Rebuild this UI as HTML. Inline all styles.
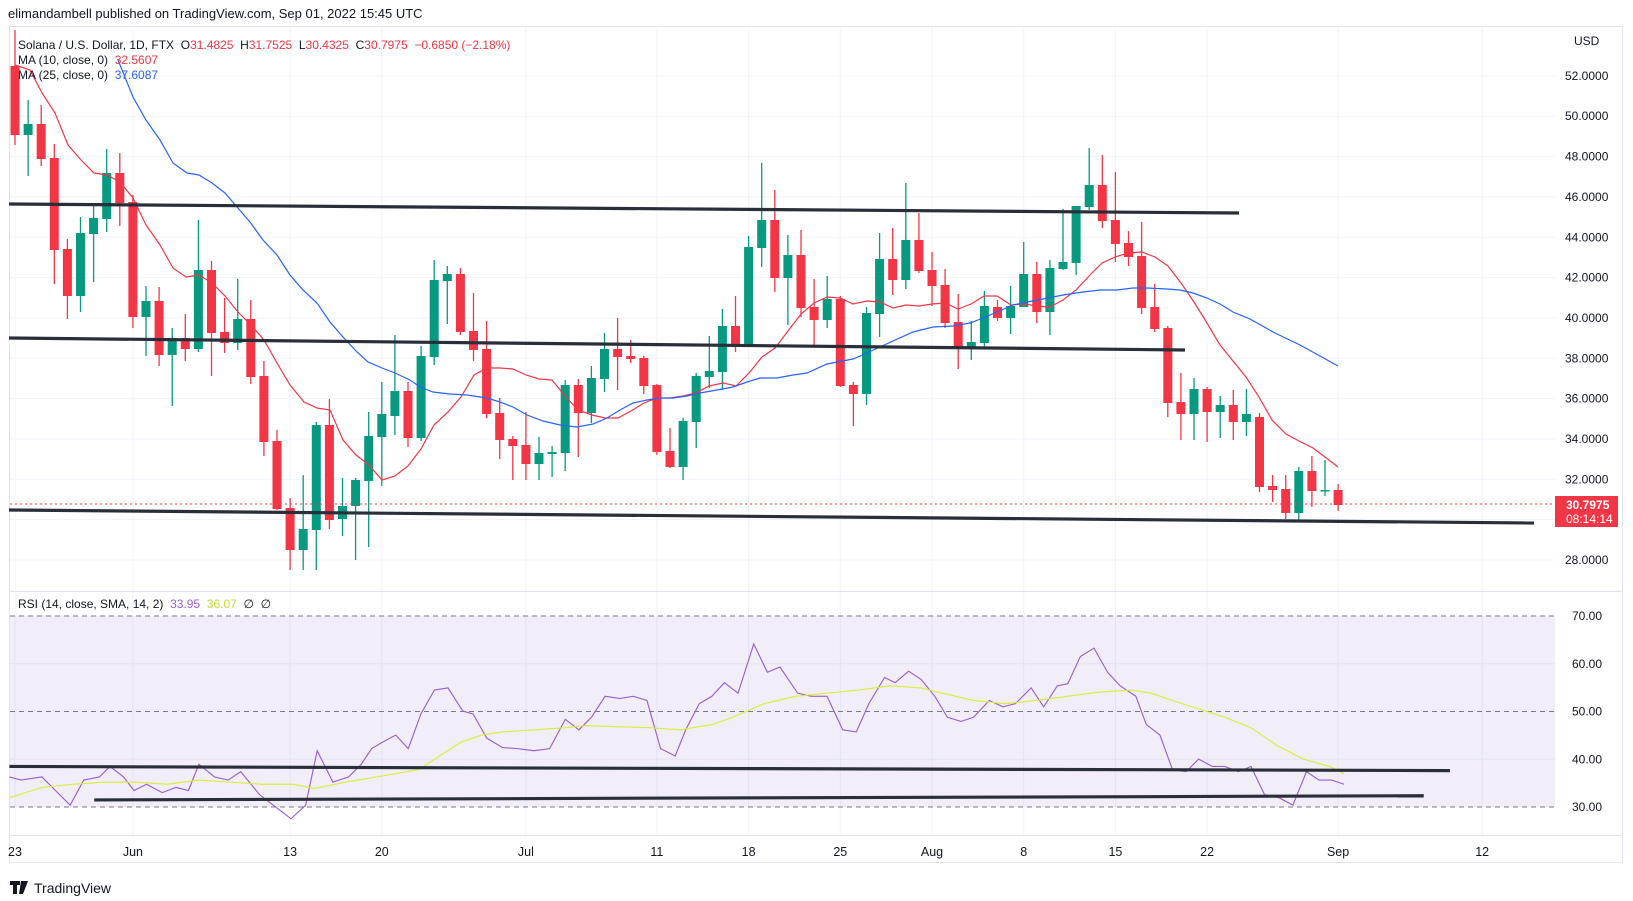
<!DOCTYPE html>
<html><head><meta charset="utf-8"><style>
html,body{margin:0;padding:0;background:#fff;}
svg{display:block;font-family:"Liberation Sans",sans-serif;}
</style></head><body>
<svg id="s" width="1633" height="901" viewBox="0 0 1633 901" xmlns="http://www.w3.org/2000/svg">
<rect width="1633" height="901" fill="#fff"/>
<text x="8" y="18" font-size="13" fill="#131722">elimandambell published on TradingView.com, Sep 01, 2022 15:45 UTC</text>
<rect x="9.5" y="26.5" width="1613" height="836" fill="none" stroke="#e0e3eb"/>
<g id="grid" stroke="#f0f3fa" stroke-width="1"></g>
<rect x="10" y="616" width="1545" height="191" fill="#7e57c2" fill-opacity="0.1"/>
<g stroke="#787b86" stroke-dasharray="5,4" stroke-width="1">
<line x1="10" y1="616" x2="1555" y2="616"/>
<line x1="10" y1="711.5" x2="1555" y2="711.5"/>
<line x1="10" y1="807" x2="1555" y2="807"/>
</g>
<line x1="10" y1="591.5" x2="1622" y2="591.5" stroke="#e0e3eb"/>
<line x1="10" y1="835.5" x2="1622" y2="835.5" stroke="#e0e3eb"/>
<g id="candles"></g>
<polyline id="ma10" fill="none" stroke="#f23645" stroke-width="1.2"/>
<polyline id="ma25" fill="none" stroke="#2962ff" stroke-width="1.2"/>
<g stroke="#2a2e39" stroke-width="3.2" stroke-linecap="butt">
<line x1="9" y1="204" x2="1239" y2="213"/>
<line x1="9" y1="338" x2="1185" y2="350"/>
<line x1="9" y1="510" x2="1534" y2="523"/>
</g>
<line x1="10" y1="504" x2="1555" y2="504" stroke="#f23645" stroke-dasharray="2,3" stroke-width="1"/>
<g transform="translate(0,-3) scale(1.04686)">
<polyline id="rsi" fill="none" stroke="#9c5fd0" stroke-width="1.1"/>
<polyline id="sma" fill="none" stroke="#d9ee3a" stroke-width="1.1"/>
<g stroke="#2a2e39" stroke-width="3">
<line x1="9" y1="735" x2="1385" y2="739"/>
<line x1="90" y1="767" x2="1360" y2="763"/>
</g>
</g>
<g font-size="12" fill="#131722">
<text x="18" y="49">Solana / U.S. Dollar, 1D, FTX&#160;&#160;O<tspan fill="#f23645">31.4825</tspan>&#160;&#160;H<tspan fill="#f23645">31.7525</tspan>&#160;&#160;L<tspan fill="#f23645">30.4325</tspan>&#160;&#160;C<tspan fill="#f23645">30.7975</tspan>&#160;&#160;<tspan fill="#f23645">−0.6850 (−2.18%)</tspan></text>
<text x="18" y="64">MA (10, close, 0)&#160;&#160;<tspan fill="#f23645">32.5607</tspan></text>
<text x="18" y="79">MA (25, close, 0)&#160;&#160;<tspan fill="#2962ff">37.6087</tspan></text>
<text x="18" y="608">RSI (14, close, SMA, 14, 2)&#160;&#160;<tspan fill="#9c5fd0">33.95</tspan>&#160;&#160;<tspan fill="#c5d92b">36.07</tspan>&#160;&#160;∅&#160;&#160;∅</text>
</g>
<g id="yl" font-size="12" fill="#131722"></g>
<text x="1574" y="45" font-size="12" fill="#131722">USD</text>
<rect x="1555" y="496" width="63" height="31" fill="#f23645"/>
<text x="1566" y="509" font-size="12" font-weight="bold" fill="#fff">30.7975</text>
<text x="1566" y="523" font-size="12" fill="#fff">08:14:14</text>
<g id="xl" font-size="12.5" fill="#131722" text-anchor="middle"></g>
<g transform="translate(10,881)" fill="#131722">
<path d="M0 0h10v4h-3v9h-4v-9h-3z M11 0h7l-5 13h-4z"/>
</g>
<text x="34" y="893" font-size="14" fill="#131722">TradingView</text>
</svg>
<script>
var NS="http://www.w3.org/2000/svg";
function el(t,a,p){var e=document.createElementNS(NS,t);for(var k in a)e.setAttribute(k,a[k]);(p||document.getElementById('s')).appendChild(e);return e;}
var grid=document.getElementById('grid');
function py(p){return 75.9+(52-p)*20.17;}
var yl=document.getElementById('yl');
for(var p=52;p>=28;p-=2){var y=py(p);el('line',{x1:10,y1:y,x2:1555,y2:y},grid);var t=el('text',{x:1565,y:y+4},yl);t.textContent=p.toFixed(4);}
[70,60,50,40,30].forEach(function(v){var y=616+(70-v)*4.775;if(v==60||v==40)el('line',{x1:10,y1:y,x2:1555,y2:y},grid);var t=el('text',{x:1572,y:y+4},yl);t.textContent=v.toFixed(2);});
var xl=document.getElementById('xl');
[[0,'23'],[9,'Jun'],[21,'13'],[28,'20'],[39,'Jul'],[49,'11'],[56,'18'],[63,'25'],[70,'Aug'],[77,'8'],[84,'15'],[91,'22'],[101,'Sep'],[112,'12']].forEach(function(d){var x=15+13.1*d[0];el('line',{x1:x,y1:28,x2:x,y2:835},grid);var t=el('text',{x:x,y:856},xl);t.textContent=d[1];});
var C=[
'r30,145,66,135','g100,176,124,135','r105,166,124,159','r144,284,158,250','r239,319,249,296','g217,312,233,296','g205,282,218,234','g149,232,173,219','r153,226,173,203','r195,328,202,317',
'g286,356,301,317','r287,366,301,355','g328,406,338,355','r314,361,338,349','g220,352,270,349','r261,376,270,333','r298,353,332,343','g279,350,319,343','r300,384,319,377','r361,456,376,442',
'r430,510,441,509','r498,570,508,550','g475,570,529,550','g422,570,425,530','r399,529,425,520','g478,536,506,519','g478,560,480,506','g412,547,436,481','g382,486,414,437','g335,435,391,416',
'r382,447,391,438','g346,441,356,438','g260,365,280,357','g266,324,274,281','r268,335,274,332','r293,361,331,350','r321,418,349,414','r398,459,413,440','r436,480,439,446','r412,480,445,464',
'g437,480,453,464','g446,477,452,454','g380,471,385,453','r379,457,385,413','g366,423,378,413','g333,392,349,379','r318,390,349,357','r340,363,356,359','r356,394,358,386','r384,455,385,452',
'r428,468,451,467','g418,480,421,467','g373,448,376,422','g336,388,371,377','g309,390,326,372','r296,352,326,347','g236,347,247,347','g163,267,220,248','r190,292,220,278','g235,325,255,278',
'r230,317,255,308','r279,346,307,320','g276,328,299,320','r296,387,299,386','r382,426,385,394','g307,405,313,394','g233,337,259,314','r228,295,259,280','g183,289,240,280','r213,273,240,271',
'r252,306,270,286','r269,328,285,323','r294,369,322,348','g321,360,342,348','g291,347,306,343','r300,321,307,318','g286,334,306,318','g242,307,274,307','r262,323,274,312','g260,335,268,312',
'g209,270,262,269','g206,275,206,263','g148,210,185,207','r155,228,185,221','r172,262,220,244','r231,266,243,257','r222,314,256,308','r284,332,307,329','r326,417,328,403','r373,440,402,414',
'g378,440,389,414','r387,442,389,412','g396,438,405,412','r390,440,405,422','g389,436,414,422','r413,492,417,487','r475,502,486,490','r475,519,489,513','g467,522,471,513','r456,507,471,491',
'g460,496,490,491','r484,511,490,505'];
var cg=document.getElementById('candles');
C.forEach(function(s,i){var col=s[0]=='g'?'#089981':'#f23645';var v=s.slice(1).split(',').map(Number);var x=15+13.1*i;
el('line',{x1:x,y1:v[0],x2:x,y2:v[1],stroke:col,'stroke-width':1.3},cg);
var h=Math.max(1.5,v[3]-v[2]);el('rect',{x:x-4.5,y:v[2],width:9,height:h,fill:col},cg);});
document.getElementById('ma10').setAttribute('points','15,65 30,70 42,93 55,113 68,145 81,160 94,173 107,175 120,182 133,198 146,225 160,245 173,268 186,277 199,275 212,283 225,296 238,312 251,325 264,340 277,363 290,385 304,402 317,408 330,410 343,440 356,455 369,465 382,480 395,476 408,466 421,449 434,425 448,412 461,397 474,375 487,368 500,368 513,369 526,375 539,379 552,380 565,396 578,410 592,415 605,418 618,418 631,411 644,403 657,398 670,398 683,396 696,393 709,386 723,383 736,386 749,373 762,357 775,348 788,331 801,314 814,303 827,297 840,298 853,304 867,301 880,302 893,308 906,305 919,306 932,304 945,303 958,309 971,304 984,296 997,296 1011,305 1024,304 1037,306 1050,307 1063,300 1076,290 1089,276 1102,263 1115,257 1128,253 1142,252 1155,257 1168,266 1181,283 1194,302 1207,323 1220,345 1233,361 1246,377 1259,397 1272,420 1286,434 1299,441 1313,448 1325,457 1338,467');
document.getElementById('ma25').setAttribute('points','118,60 133,97 146,120 160,140 173,163 187,173 199,175 212,183 225,193 237,207 250,222 263,240 277,255 290,275 303,290 317,303 330,322 343,337 357,352 368,362 382,368 395,373 410,380 420,387 433,392 450,394 467,395 487,398 500,402 513,407 527,415 543,421 560,425 577,427 593,424 607,418 620,410 633,403 647,400 660,398 673,398 687,396 700,393 717,390 733,387 747,382 760,378 777,378 793,375 807,373 827,364 853,359 867,353 893,341 913,332 933,327 953,326 970,323 983,318 997,312 1013,305 1027,302 1043,299 1063,295 1083,292 1100,290 1117,290 1133,288 1147,288 1167,289 1180,290 1193,293 1207,298 1220,304 1233,312 1250,319 1275,333 1300,345 1320,356 1338,366');
document.getElementById('rsi').setAttribute('points','9,745 20,748 40,745 55,760 67,772 80,748 95,745 105,735 118,745 128,758 140,752 155,760 168,755 180,758 190,733 205,745 218,748 230,740 248,762 265,775 278,785 292,772 303,720 318,750 333,745 345,733 355,718 365,712 378,705 390,718 402,685 415,662 428,660 442,682 452,685 465,708 480,717 495,718 510,720 525,718 540,690 553,700 565,688 578,668 592,670 605,668 618,672 631,718 645,725 655,700 668,675 680,668 692,655 705,665 720,618 733,645 745,640 762,665 775,668 790,668 805,700 818,702 830,675 845,650 855,655 868,644 880,652 893,668 905,688 918,692 930,688 945,672 958,678 970,675 985,660 997,678 1010,658 1020,656 1032,630 1045,622 1058,645 1070,658 1085,668 1095,695 1108,705 1120,738 1133,740 1145,728 1158,735 1170,735 1183,740 1195,735 1208,762 1222,765 1235,772 1248,740 1260,748 1272,748 1284,752');
document.getElementById('sma').setAttribute('points','9,765 40,755 70,752 100,750 130,750 160,752 190,748 220,750 250,752 280,752 300,756 330,750 360,745 400,738 420,725 440,712 460,705 480,702 510,700 540,698 560,696 590,697 620,698 650,700 680,695 700,688 730,675 760,668 790,665 820,662 850,658 880,660 900,665 930,672 960,675 990,672 1020,668 1050,664 1080,662 1100,665 1120,672 1145,680 1170,688 1195,698 1220,715 1245,728 1270,735 1284,742');
</script>
</body></html>
